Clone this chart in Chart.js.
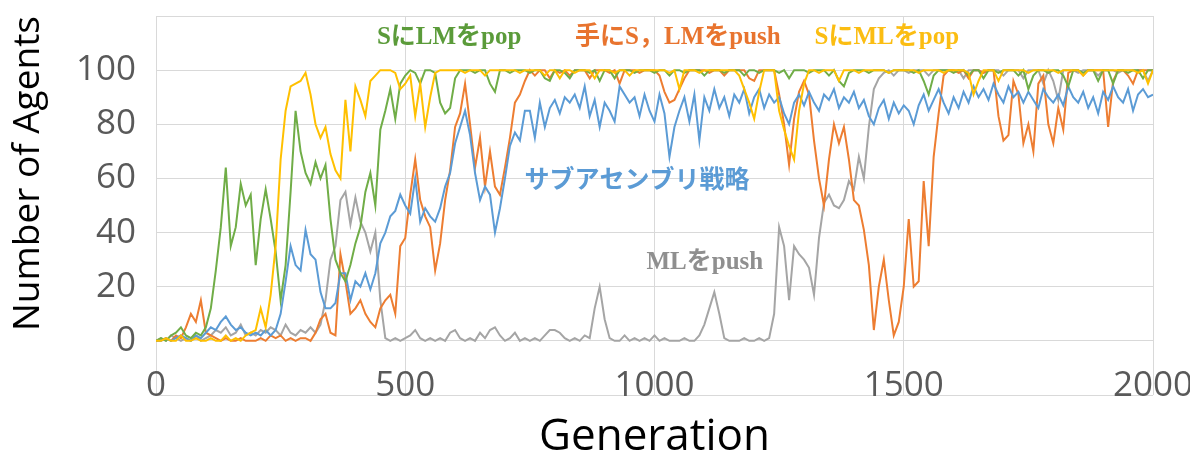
<!DOCTYPE html>
<html>
<head>
<meta charset="utf-8">
<script src="https://cdn.jsdelivr.net/npm/chart.js@4/dist/chart.umd.min.js"></script>
<style>
  html, body { margin: 0; padding: 0; background: #fff; }
  #wrap { width: 1190px; height: 455px; }
</style>
</head>
<body>
<div id="wrap"><canvas id="agentsChart" width="1190" height="455"></canvas></div>
<script>
// 世代 0..2000 を10刻みで読み取った値
const genStep = 10;

const subAssembly = [ // サブアセンブリ戦略 (青)
  0,0,1,0,1,2,1,0,2,1,
  3,5,4,7,9,6,4,5,3,2,
  3,2,4,2,4,10,22,35,28,26,
  41,32,30,18,12,12,14,25,25,15,
  22,20,25,19,25,36,40,46,48,54,
  50,47,60,44,49,46,44,49,57,62,
  73,79,85,76,62,52,57,54,40,49,
  60,72,77,74,85,85,75,88,79,86,
  89,84,90,88,91,86,94,83,89,79,
  88,85,81,94,91,88,90,83,91,85,
  81,91,84,68,79,85,90,81,91,74,
  90,85,93,86,90,83,91,88,93,84,
  90,93,86,91,88,90,84,80,88,91,
  87,92,88,85,91,89,93,86,90,88,
  92,86,89,83,80,86,89,82,88,84,
  87,85,80,87,91,85,89,93,88,84,
  90,86,92,88,94,90,93,89,95,91,
  88,94,90,92,88,92,89,86,93,90,
  88,91,87,94,90,88,92,86,90,84,
  92,89,94,90,88,93,85,91,93,90,
  91
];

const pushSLM = [ // 手にS，LMをpush (橙)
  0,0,1,0,2,1,5,10,7,15,
  3,2,1,0,1,0,0,1,0,0,
  0,1,0,2,1,2,0,1,0,1,
  1,0,3,8,10,3,2,32,22,10,
  12,15,10,7,5,12,15,17,10,35,
  38,54,67,52,46,42,26,36,52,63,
  79,84,95,80,64,75,57,70,57,54,
  64,75,88,91,96,100,98,100,100,97,
  100,99,100,98,100,100,100,97,100,100,
  100,99,100,95,100,100,100,99,100,100,
  100,98,92,88,89,93,97,100,100,100,
  100,99,100,100,98,100,100,100,100,97,
  96,100,100,100,100,91,80,65,82,92,
  96,91,74,60,50,67,80,73,79,67,
  52,50,41,28,4,20,30,15,2,7,
  20,45,20,22,59,35,68,84,98,100,
  100,99,100,97,100,100,99,100,100,83,
  74,76,96,91,73,80,70,95,98,80,
  73,86,78,99,100,100,98,100,100,100,
  100,79,96,100,100,98,95,100,100,100,
  100
];

const pushML = [ // MLをpush (灰)
  0,1,0,2,1,0,1,0,2,0,
  1,2,4,3,5,2,3,6,2,3,
  2,4,3,5,4,2,6,3,2,4,
  3,5,3,6,15,30,35,52,55,43,
  53,44,40,33,40,15,1,0,1,0,
  1,2,4,1,0,1,0,1,0,3,
  4,1,0,1,0,3,1,4,5,2,
  0,1,3,0,1,0,1,0,2,4,
  4,3,1,0,1,0,2,1,12,20,
  8,1,0,0,2,0,1,0,1,0,
  2,0,1,0,0,0,1,0,0,2,
  6,12,18,10,1,0,0,0,1,0,
  0,1,0,1,10,42,35,15,35,32,
  30,27,17,38,51,54,50,49,52,59,
  56,68,60,79,93,97,99,100,98,100,
  100,99,100,100,100,98,100,100,100,100,
  100,100,97,100,100,100,99,100,100,100,
  98,100,100,100,97,100,100,100,95,100,
  96,89,100,100,100,99,100,100,100,98,
  100,100,100,99,100,100,100,100,100,96,
  100
];

const popML = [ // SにMLをpop (黄)
  0,0,1,0,0,2,0,0,1,0,
  0,1,0,0,2,0,1,0,2,3,
  4,12,5,17,35,67,85,94,95,96,
  99,91,80,75,79,69,63,60,89,70,
  94,89,83,96,98,100,100,100,99,93,
  95,98,83,95,79,90,99,100,100,100,
  100,100,99,100,100,100,98,100,100,100,
  100,100,100,99,100,100,100,100,98,100,
  100,97,100,100,99,100,100,100,97,100,
  100,100,99,100,100,98,100,100,100,100,
  100,100,100,99,100,93,100,100,100,99,
  100,100,100,100,100,100,100,98,93,88,
  82,92,100,100,100,85,78,72,67,85,
  95,100,100,99,100,100,100,96,100,100,
  100,99,100,100,100,100,100,99,100,100,
  100,100,100,99,100,100,100,100,99,100,
  100,100,100,99,91,96,100,100,100,96,
  100,100,100,100,100,99,100,100,100,100,
  100,99,100,100,100,100,98,100,100,100,
  100,100,100,100,100,100,100,99,100,95,
  100
];

const popLM = [ // SにLMをpop (緑)
  0,1,0,2,3,5,2,1,3,2,
  5,12,26,42,64,35,42,58,50,54,
  28,45,56,45,33,15,28,55,85,70,
  62,58,66,60,65,45,30,25,22,28,
  36,42,55,62,50,78,85,93,82,95,
  98,100,99,95,100,100,99,88,84,86,
  97,100,100,100,99,100,100,95,92,100,
  100,99,100,100,100,99,100,100,97,96,
  100,100,99,97,100,100,100,99,100,96,
  100,100,97,100,100,100,99,100,100,100,
  99,100,100,98,100,100,99,100,100,100,
  98,100,100,100,99,100,100,100,98,100,
  100,99,100,100,100,99,100,97,100,100,
  100,99,100,100,100,98,100,96,94,99,
  100,100,100,99,100,100,100,99,100,100,
  100,100,99,100,96,91,98,100,100,100,
  99,100,100,98,100,100,97,100,100,99,
  100,100,100,98,100,93,98,100,100,99,
  100,100,98,94,100,100,99,100,100,96,
  100,100,95,100,100,99,100,100,97,100,
  100
];

const yTicks = [0, 20, 40, 60, 80, 100];

// 系列名ラベル: [テキスト, 世代, 値, 色, フォント]
const serifFont = 'bold 25px "Liberation Serif", "Noto Sans CJK JP"';
const seriesLabels = [
  ['SにLMをpop', 588, 112, '#5b9b3a', serifFont],
  ['手にS，LMをpush', 1047, 112, '#e8742f', serifFont],
  ['SにMLをpop', 1466, 112, '#fbbd12', serifFont],
  ['サブアセンブリ戦略', 965, 60, '#5b9bd5', 'bold 25px "Noto Sans CJK JP"'],
  ['MLをpush', 1101, 29, '#8f8f8f', serifFont]
];

const toPoints = arr => arr.map((v, i) => ({ x: i * genStep, y: v }));

const labelPlugin = {
    id: 'seriesLabels',
    afterDatasetsDraw(chart) {
        const { ctx, scales } = chart;
        ctx.save();
        ctx.textAlign = 'center';
        ctx.textBaseline = 'middle';
        seriesLabels.forEach(([text, gx, gy, color, font]) => {
            ctx.font = font;
            ctx.fillStyle = color;
            ctx.fillText(text, scales.x.getPixelForValue(gx), scales.y.getPixelForValue(gy));
        });
        ctx.restore();
    }
};

function line(label, data, color) {
    return {
        label: label,
        data: toPoints(data),
        borderColor: color,
        borderWidth: 2,
        pointRadius: 0,
        tension: 0,
        fill: false
    };
}

new Chart(document.getElementById('agentsChart'), {
    type: 'line',
    data: {
        datasets: [
            line('SにMLをpop', popML, '#ffc000'),
            line('SにLMをpop', popLM, '#70ad47'),
            line('サブアセンブリ戦略', subAssembly, '#5b9bd5'),
            line('手にS，LMをpush', pushSLM, '#ed7d31'),
            line('MLをpush', pushML, '#a5a5a5')
        ]
    },
    options: {
        responsive: false,
        animation: false,
        layout: { padding: { top: 16, right: 37, bottom: 0, left: 0 } },
        plugins: {
            legend: { display: false },
            tooltip: { enabled: false }
        },
        scales: {
            x: {
                type: 'linear',
                min: 0,
                max: 2000,
                afterFit: s => { s.height = 60; s.paddingLeft = 0; s.paddingRight = 0; },
                grid: { color: '#d9d9d9', drawTicks: false },
                border: { display: false },
                ticks: {
                    stepSize: 500,
                    mirror: true,
                    padding: -12,
                    color: '#595959',
                    font: { family: 'Open Sans', size: 35 },
                    maxRotation: 0,
                    autoSkip: false,
                    callback: v => String(v)
                },
                title: {
                    display: true,
                    text: 'Generation',
                    color: '#000',
                    font: { family: 'Open Sans', size: 44, lineHeight: 1 },
                    padding: { top: 0, bottom: -4 }
                }
            },
            y: {
                min: -20,
                max: 120,
                ticks: {
                    stepSize: 20,
                    padding: 20,
                    color: '#595959',
                    font: { family: 'Open Sans', size: 35 },
                    callback: v => yTicks.includes(v) ? v : ''
                },
                afterFit: s => { s.width = 156; s.paddingTop = 0; s.paddingBottom = 0; },
                grid: { color: '#d9d9d9', drawTicks: false },
                border: { display: false },
                title: {
                    display: true,
                    text: 'Number of Agents',
                    align: 'end',
                    color: '#000',
                    font: { family: 'Open Sans', size: 37, lineHeight: 1 },
                    padding: { top: 10, bottom: 10 }
                }
            }
        }
    },
    plugins: [labelPlugin]
});
</script>
</body>
</html>
